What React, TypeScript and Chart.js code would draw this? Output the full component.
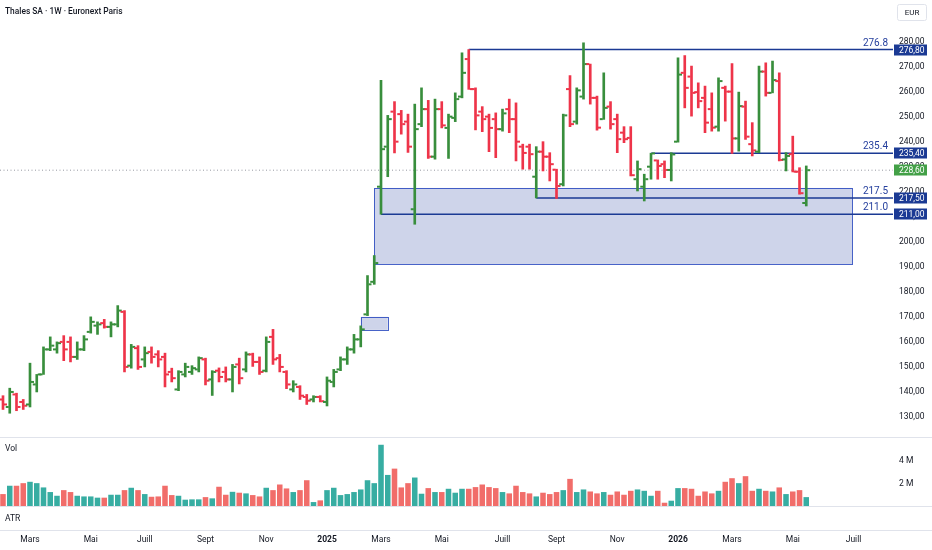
import { useEffect, useRef } from "react";
import { Chart, registerables } from "chart.js";

Chart.register(...registerables);

// Weekly bars, week index 0 = week of 5 Feb 2024
const OPENS = [
  137, 134, 139, 136, 135, 143, 147, 157, 157, 160,
  160, 154, 157, 164, 166.5, 167.5, 166, 167, 172, 150.5,
  157.5, 153, 156, 155, 154, 148, 141, 147, 148, 149,
  153, 145, 148.5, 148, 145, 151, 149, 155, 152, 148.5,
  162, 153.5, 148, 141, 142, 138, 137, 138, 136, 144,
  149, 153, 157, 161, 171, 184, 222, 238, 252, 251,
  248, 213, 247, 253, 234, 253, 245.5, 249.5, 258, 273,
  261, 252, 250, 249, 245, 253, 249, 238, 238, 226,
  236, 234, 228.8, 223, 261, 248, 258, 271, 257.5, 249,
  254, 249, 243.6, 241.5, 225, 222, 230, 232.5, 231, 228.7,
  240, 267.5, 266, 259.8, 257.5, 253, 246, 261.5, 260, 241.3,
  254, 239, 236, 268, 259.5, 264.2, 232.9, 235, 228, 215.5,
];
const HIGHS = [
  138.5, 141.5, 139.5, 137, 151.5, 147, 158, 162, 160, 162.5,
  162, 160, 162.5, 170, 168, 169, 168, 174.5, 172.5, 159,
  158.5, 158, 158, 156.5, 155.5, 149.5, 148.5, 151.5, 150.5, 154,
  153.5, 148.5, 149.6, 150, 151, 153.5, 156, 155.5, 154, 162,
  165, 155, 148.5, 144.5, 142.5, 139, 138.5, 138.5, 146, 149,
  154, 158, 163, 166.4, 186.5, 194.5, 264.5, 250.5, 256, 252.5,
  251, 255, 261.5, 256.5, 257, 256, 251, 259.5, 275.5, 276.8,
  261.5, 254, 251, 251.5, 253, 257, 255.5, 239, 239, 238,
  240, 235.6, 229, 251, 266.4, 261.5, 279.5, 271, 258.2, 267.5,
  256, 251, 246, 246, 232.3, 227, 235.4, 232.7, 232.3, 235.6,
  273.5, 274.4, 270.2, 263.5, 262.2, 259.5, 265.5, 262.2, 271.2, 259.8,
  256.2, 247.6, 270.2, 271.5, 272.2, 267.5, 235.6, 242.2, 229.6, 230.3,
];
const LOWS = [
  133, 131.5, 132.5, 133, 134, 140, 147, 156.5, 155.5, 152.5,
  152, 153, 156.5, 163.5, 163, 165.5, 162, 166, 148, 149.5,
  149, 150, 151.5, 150, 142, 144, 140.5, 146, 147, 148,
  142.8, 138.6, 144, 144, 140, 143.2, 148, 150.2, 147, 148,
  151, 148, 141.3, 140, 137, 135, 136, 136, 134.4, 142,
  148.5, 151, 155.5, 158, 170.5, 183, 211, 226, 235.5, 243,
  235.7, 207, 246, 233.3, 233, 245.5, 233.3, 248, 257.5, 260.9,
  244.7, 244, 236, 233.6, 244.2, 243.6, 232.3, 229, 229, 217.5,
  228.3, 224.3, 217.3, 222.3, 246, 247, 257, 255, 244.6, 248.9,
  245, 235.6, 239.6, 226.3, 220.3, 216.3, 225, 225, 225.6, 224.3,
  239.8, 253.5, 250.2, 253.5, 243.6, 244.2, 244.2, 248.2, 235.3, 236.2,
  240.9, 234.3, 235.6, 258.2, 259.5, 232.3, 228.3, 227.9, 219, 214.3,
];
const CLOSES = [
  135, 140, 134, 134.5, 144, 147, 157, 158.5, 159.5, 157,
  154, 157, 161, 168, 167, 166, 167, 172.5, 150, 158,
  150, 155.5, 154, 153, 147, 145.5, 148, 150, 149.5, 153.5,
  144.5, 148, 146, 145, 150, 145.5, 155, 152, 148, 160,
  153, 150, 143, 143, 138.5, 136.5, 138, 136.3, 144.5, 148,
  153, 157, 161, 165, 183, 191.5, 237, 249, 240, 247,
  238, 245, 253, 234, 253, 246.5, 250, 257, 267.5, 261,
  250.5, 249, 245.5, 245, 251.3, 249, 240, 235.5, 235, 236,
  234, 231, 222.3, 250.5, 247, 260.5, 271, 257.5, 245.6, 253.5,
  247, 241, 241, 226.6, 229, 225, 235.3, 230.3, 228.7, 234.9,
  266.8, 261.5, 259.5, 256.2, 247.6, 245.6, 264.2, 260, 241.3, 254.2,
  242, 236.5, 268, 259.5, 264.6, 232.7, 234.3, 228, 219.4, 228.6,
];
// Volume in millions
const VOLUMES = [
  1.06, 1.8, 1.8, 2.03, 2.15, 2.03, 1.65, 1.24, 0.91, 1.41,
  1.24, 0.91, 0.85, 0.85, 0.74, 0.74, 1.0, 1.0, 1.41, 1.62,
  1.41, 1.06, 0.82, 0.85, 1.8, 0.97, 0.91, 0.56, 0.59, 0.59,
  0.79, 0.68, 1.71, 1.0, 1.26, 1.18, 1.12, 0.97, 0.85, 1.62,
  1.41, 1.91, 1.56, 1.24, 1.41, 2.29, 0.35, 0.5, 1.41, 1.62,
  0.97, 1.06, 1.24, 1.47, 2.29, 2.03, 5.44, 2.76, 3.32, 1.65,
  2.03, 2.53, 1.09, 1.59, 1.24, 1.24, 1.53, 1.18, 1.53, 1.53,
  1.68, 1.91, 1.68, 1.59, 1.24, 1.12, 1.8, 1.24, 1.12, 0.85,
  1.18, 1.06, 1.24, 1.41, 2.41, 1.24, 1.47, 1.29, 1.12, 1.24,
  1.0, 1.29, 1.0, 1.35, 1.47, 1.35, 0.91, 1.35, 0.29, 0.47,
  1.59, 1.59, 1.53, 0.91, 1.29, 1.12, 1.35, 2.15, 2.47, 2.03,
  2.65, 1.35, 1.53, 1.35, 1.29, 1.65, 1.06, 1.29, 1.41, 0.79,
];

const MONTH_TICK_INDEX = [4, 13, 21, 30, 39, 48, 56, 65, 74, 82, 91, 100, 108, 117, 126];
const MONTH_TICK_LABELS = ["Mars", "Mai", "Juill", "Sept", "Nov", "2025", "Mars", "Mai", "Juill", "Sept", "Nov", "2026", "Mars", "Mai", "Juill"];
const YEAR_LABELS = ["2025", "2026"];
const PRICE_TICKS = [130, 140, 150, 160, 170, 180, 190, 200, 210, 220, 230, 240, 250, 260, 270, 280];
const VOLUME_TICKS = [2, 4];

const LEVEL_VALUES = [276.8, 235.4, 217.5, 211.0];
const LEVEL_START = [69, 96, 79, 56];
const BOX_X0 = [55, 53];
const BOX_X1 = [125.8, 57];
const BOX_TOP = [221.5, 170.0];
const BOX_BOTTOM = [191.1, 164.8];
const LAST_PRICE = 228.6;

const X_MIN = -0.444;
const X_MAX = 131.85;
const TICK_OFFSET = 0.37;

const GREEN = "#388e3c";
const RED = "#ee3449";
const VOL_UP = "rgba(38,166,154,0.92)";
const VOL_DOWN = "rgba(239,83,80,0.85)";
const NAVY = "#1b3a94";
const TEXT = "#131722";
const FONT = "Roboto";
const AXIS_SIZE = 8.5;

const fmt = (v: number) => v.toFixed(2).replace(".", ",");

const overlay = {
  id: "overlay",
  beforeDatasetsDraw(chart: any) {
    const { ctx } = chart;
    const xs = chart.scales.x;
    const ys = chart.scales.y;
    ctx.save();
    for (let k = 0; k < BOX_X0.length; k++) {
      const x0 = xs.getPixelForValue(BOX_X0[k]);
      const x1 = xs.getPixelForValue(BOX_X1[k]);
      const y0 = ys.getPixelForValue(BOX_TOP[k]);
      const y1 = ys.getPixelForValue(BOX_BOTTOM[k]);
      ctx.fillStyle = "rgba(30,60,160,0.22)";
      ctx.fillRect(x0, y0, x1 - x0, y1 - y0);
      ctx.strokeStyle = "rgba(40,72,190,0.85)";
      ctx.lineWidth = 1;
      ctx.strokeRect(Math.round(x0) + 0.5, Math.round(y0) + 0.5, Math.round(x1 - x0), Math.round(y1 - y0));
    }
    ctx.restore();
  },
  afterDraw(chart: any) {
    const { ctx, chartArea, width } = chart;
    const ys = chart.scales.y;
    const vs = chart.scales.vol;
    const xs = chart.scales.x;
    ctx.save();
    // pane separators
    ctx.strokeStyle = "#e0e3eb";
    ctx.lineWidth = 1;
    for (const yy of [ys.bottom, vs.bottom, xs.top]) {
      const py = Math.round(yy) + 0.5;
      ctx.beginPath();
      ctx.moveTo(0, py);
      ctx.lineTo(width, py);
      ctx.stroke();
    }
    // title
    ctx.fillStyle = TEXT;
    ctx.textBaseline = "middle";
    ctx.textAlign = "left";
    ctx.font = `500 8.4px ${FONT}`;
    ctx.fillText("Thales SA · 1W · Euronext Paris", 5, 12);
    ctx.font = `${AXIS_SIZE}px ${FONT}`;
    ctx.fillText("Vol", 5, 449);
    ctx.fillText("ATR", 5, 519);
    // EUR box
    ctx.strokeStyle = "#e0e3eb";
    ctx.beginPath();
    ctx.roundRect(897.5, 4.5, 29, 16, 2);
    ctx.stroke();
    ctx.textAlign = "center";
    ctx.font = `8px ${FONT}`;
    ctx.fillText("EUR", 912, 12.5);
    // level labels & badges
    const right = chartArea.right;
    for (let k = 0; k < LEVEL_VALUES.length; k++) {
      const py = ys.getPixelForValue(LEVEL_VALUES[k]);
      ctx.font = `10px ${FONT}`;
      ctx.fillStyle = "#26409e";
      ctx.textAlign = "right";
      ctx.textBaseline = "alphabetic";
      ctx.fillText(LEVEL_VALUES[k].toFixed(1), right - 5, py - 4);
      ctx.fillStyle = NAVY;
      ctx.fillRect(right + 1, Math.round(py) - 5.5, 33, 11);
      ctx.fillStyle = "#ffffff";
      ctx.font = `${AXIS_SIZE}px ${FONT}`;
      ctx.textAlign = "left";
      ctx.textBaseline = "middle";
      ctx.fillText(fmt(LEVEL_VALUES[k]), right + 6, Math.round(py) + 0.5);
    }
    const lp = ys.getPixelForValue(LAST_PRICE);
    ctx.fillStyle = "#43a047";
    ctx.fillRect(right + 1, Math.round(lp) - 5.5, 33, 11);
    ctx.fillStyle = "#ffffff";
    ctx.font = `${AXIS_SIZE}px ${FONT}`;
    ctx.textAlign = "left";
    ctx.textBaseline = "middle";
    ctx.fillText(fmt(LAST_PRICE), right + 6, Math.round(lp) + 0.5);
    ctx.restore();
  },
};

export default function App() {
  const ref = useRef<HTMLCanvasElement | null>(null);
  useEffect(() => {
    document.body.style.margin = "0";
    if (!ref.current) return;
    const barColors = CLOSES.map((c, i) => (c >= OPENS[i] ? GREEN : RED));
    const volColors = CLOSES.map((c, i) => (c >= OPENS[i] ? VOL_UP : VOL_DOWN));
    const levelSets = LEVEL_VALUES.map((v, k) => ({
      type: "line" as const,
      data: [{ x: LEVEL_START[k], y: v }, { x: X_MAX, y: v }],
      borderColor: NAVY,
      borderWidth: 1.5,
      pointRadius: 0,
      yAxisID: "y",
      order: 3,
    }));
    const rightFit = (w: number) => (scale: any) => {
      scale.width = w;
      scale.paddingTop = 0;
      scale.paddingBottom = 0;
    };
    const chart = new Chart(ref.current, {
      type: "bar",
      data: {
        datasets: [
          {
            type: "bar",
            data: HIGHS.map((h, i) => ({ x: i, y: [LOWS[i], h] })) as any,
            backgroundColor: barColors,
            barThickness: 2,
            grouped: false,
            yAxisID: "y",
            order: 1,
          },
          {
            type: "line",
            data: OPENS.map((o, i) => ({ x: i - TICK_OFFSET, y: o })),
            showLine: false,
            pointStyle: "line",
            pointRadius: 1.5,
            pointBorderWidth: 2,
            pointBorderColor: barColors,
            pointBackgroundColor: barColors,
            yAxisID: "y",
            order: 1,
          },
          {
            type: "line",
            data: CLOSES.map((c, i) => ({ x: i + TICK_OFFSET, y: c })),
            showLine: false,
            pointStyle: "line",
            pointRadius: 1.5,
            pointBorderWidth: 2,
            pointBorderColor: barColors,
            pointBackgroundColor: barColors,
            yAxisID: "y",
            order: 1,
          },
          {
            type: "bar",
            data: VOLUMES.map((v, i) => ({ x: i, y: v })),
            backgroundColor: volColors,
            categoryPercentage: 0.82,
            barPercentage: 1,
            grouped: false,
            yAxisID: "vol",
            order: 2,
          },
          ...levelSets,
          {
            type: "line",
            data: [{ x: X_MIN, y: LAST_PRICE }, { x: X_MAX, y: LAST_PRICE }],
            borderColor: "#9598a1",
            borderWidth: 1,
            borderDash: [1, 2.5],
            pointRadius: 0,
            yAxisID: "y",
            order: 4,
          },
        ] as any,
      },
      options: {
        animation: false,
        responsive: false,
        maintainAspectRatio: false,
        events: [],
        layout: { padding: 0, autoPadding: false },
        plugins: { legend: { display: false }, tooltip: { enabled: false } },
        scales: {
          x: {
            type: "linear",
            min: X_MIN,
            max: X_MAX,
            offset: false,
            position: "bottom",
            grid: { display: false, drawTicks: false },
            border: { display: false },
            afterBuildTicks: (scale: any) => {
              scale.ticks = MONTH_TICK_INDEX.map((v) => ({ value: v }));
            },
            afterFit: (scale: any) => {
              scale.height = 20;
              scale.paddingLeft = 0;
              scale.paddingRight = 0;
            },
            ticks: {
              autoSkip: false,
              maxRotation: 0,
              padding: 5,
              color: TEXT,
              font: (c: any) => ({
                family: FONT,
                size: AXIS_SIZE,
                weight: YEAR_LABELS.includes(MONTH_TICK_LABELS[c.index]) ? "bold" : "normal",
              }),
              callback: (_v: any, index: number) => MONTH_TICK_LABELS[index],
            },
          },
          y: {
            type: "linear",
            position: "right",
            stack: "panes",
            stackWeight: 437,
            min: 122.0,
            max: 296.6,
            grid: { display: false, drawTicks: false, tickLength: 0 },
            border: { display: false },
            afterBuildTicks: (scale: any) => {
              scale.ticks = PRICE_TICKS.map((v) => ({ value: v }));
            },
            afterFit: rightFit(39),
            ticks: {
              padding: 6,
              color: TEXT,
              font: { family: FONT, size: AXIS_SIZE },
              callback: (v: any) => fmt(Number(v)),
            },
          },
          vol: {
            type: "linear",
            position: "right",
            stack: "panes",
            stackWeight: 69,
            min: 0,
            max: 6.13,
            grid: { display: false, drawTicks: false, tickLength: 0 },
            border: { display: false },
            afterBuildTicks: (scale: any) => {
              scale.ticks = VOLUME_TICKS.map((v) => ({ value: v }));
            },
            afterFit: rightFit(39),
            ticks: {
              padding: 6,
              color: TEXT,
              font: { family: FONT, size: AXIS_SIZE },
              callback: (v: any) => `${v} M`,
            },
          },
          atr: {
            type: "linear",
            position: "right",
            stack: "panes",
            stackWeight: 24,
            min: 0,
            max: 1,
            grid: { display: false, drawTicks: false, tickLength: 0 },
            border: { display: false },
            afterFit: rightFit(39),
            ticks: { display: false },
          },
        },
      } as any,
      plugins: [overlay],
    });
    return () => chart.destroy();
  }, []);
  return <canvas ref={ref} width={932} height={550} style={{ display: "block" }} />;
}
